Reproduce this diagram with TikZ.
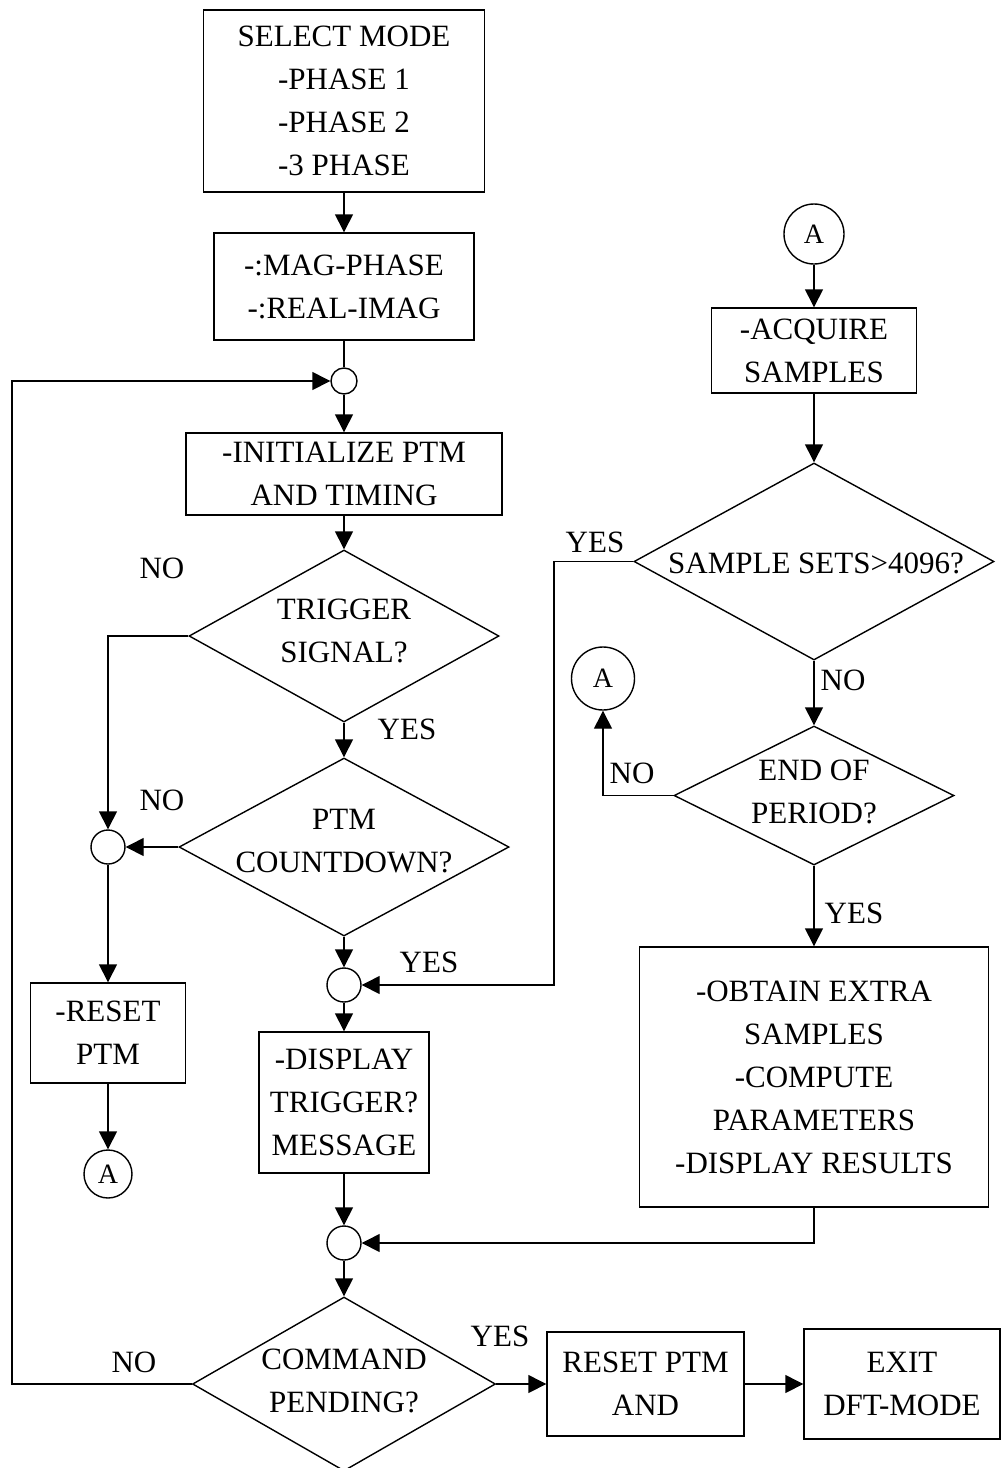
\documentclass[tikz,border=0pt]{standalone}
\usepackage{fontspec}
\setmainfont{Liberation Serif}
\usetikzlibrary{arrows.meta,shapes.geometric}
\begin{document}
\begin{tikzpicture}[x=0.5pt,y=-0.5pt,
  every node/.style={font=\fontsize{15.5}{21.5}\selectfont},
  proc/.style={draw, line width=0.7pt, align=center, inner sep=0pt},
  dec/.style={draw, diamond, line width=0.7pt, inner sep=0pt},
  jn/.style={draw, circle, line width=0.7pt, inner sep=0pt, minimum size=17pt},
  conn/.style={draw, circle, line width=0.7pt, inner sep=0pt,
    font=\fontsize{14}{16}\selectfont},
  lbl/.style={inner sep=0pt, align=center},
  flow/.style={line width=0.7pt, -{Triangle[length=9pt,width=9pt]}},
  plain/.style={line width=0.7pt}]
\useasboundingbox (0,0) rectangle (1002,1468);

% ---- main column ----
\node[proc, minimum width=140.5pt, minimum height=91pt] (mode) at (344,101)
  {SELECT MODE\\-PHASE 1\\-PHASE 2\\-3 PHASE};
\node[proc, minimum width=130pt, minimum height=53.5pt] (fmt) at (344,286.5)
  {-:MAG-PHASE\\-:REAL-IMAG};
\node[jn, minimum size=13pt] (j1) at (344,381) {};
\node[proc, minimum width=158pt, minimum height=41pt] (init) at (344,474)
  {-INITIALIZE PTM\\AND TIMING};
\node[dec, minimum width=155pt, minimum height=86pt] (trig) at (344,636) {};
\node[lbl] (trigt) at (344,631) {TRIGGER\\SIGNAL?};
\node[dec, minimum width=165pt, minimum height=89pt] (cnt) at (344,847) {};
\node[lbl] (cntt) at (344,841) {PTM\\COUNTDOWN?};
\node[jn] (j2) at (108,847) {};
\node[proc, minimum width=77.5pt, minimum height=50pt] (rst) at (108,1033)
  {-RESET\\PTM};
\node[conn, minimum size=24pt] (a1) at (108,1174) {A};
\node[jn] (j3) at (344,985) {};
\node[proc, minimum width=85pt, minimum height=70.5pt] (disp) at (344,1102.5)
  {-DISPLAY\\TRIGGER?\\MESSAGE};
\node[jn] (j4) at (344,1243) {};
\node[dec, minimum width=151.5pt, minimum height=87pt] (cmd) at (344,1384) {};
\node[lbl] (cmdt) at (344,1381) {COMMAND\\PENDING?};
\node[proc, minimum width=98.5pt, minimum height=52pt] (rp) at (645.5,1384)
  {RESET PTM\\AND};
\node[proc, minimum width=98pt, minimum height=55pt] (ex) at (902,1384)
  {EXIT\\DFT-MODE};

% ---- right column ----
\node[conn, minimum size=30pt] (a2) at (814,234) {A};
\node[proc, minimum width=102.5pt, minimum height=42.5pt] (acq) at (814,350.5)
  {-ACQUIRE\\SAMPLES};
\node[dec, minimum width=180pt, minimum height=98.5pt] (sets) at (814,561.5) {};
\node[lbl] (setst) at (816,563) {SAMPLE SETS>4096?};
\node[conn, minimum size=31.5pt] (a3) at (603,678.5) {A};
\node[dec, minimum width=140pt, minimum height=69.5pt] (per) at (814,795.5) {};
\node[lbl] (pert) at (814,792) {END OF\\PERIOD?};
\node[proc, minimum width=174.5pt, minimum height=130pt] (res) at (814,1077)
  {-OBTAIN EXTRA\\SAMPLES\\-COMPUTE\\PARAMETERS\\-DISPLAY RESULTS};

% ---- branch labels ----
\node[lbl] (n1) at (162,568) {NO};
\node[lbl] (y1) at (407,729) {YES};
\node[lbl] (n2) at (162,800) {NO};
\node[lbl] (y2) at (429,962) {YES};
\node[lbl] (y3) at (595,542) {YES};
\node[lbl] (n3) at (843,680) {NO};
\node[lbl] (n4) at (632,773) {NO};
\node[lbl] (y4) at (854,913) {YES};
\node[lbl] (n5) at (134,1362) {NO};
\node[lbl] (y5) at (500,1336) {YES};

% ---- bend points ----
\coordinate (loop) at (12,1384);
\coordinate (ybend) at (554,561.5);

% ---- connectors ----
\draw[flow] (mode) -- (fmt);
\draw[plain] (fmt) -- (j1);
\draw[flow] (j1) -- (init);
\draw[flow] (init) -- (trig);
\draw[flow] (trig) -- (cnt);
\draw[flow] (trig.west) -| (j2.north);
\draw[flow] (cnt.west) -- (j2.east);
\draw[flow] (j2) -- (rst);
\draw[flow] (rst) -- (a1);
\draw[flow] (cnt) -- (j3);
\draw[flow] (j3) -- (disp);
\draw[flow] (disp) -- (j4);
\draw[flow] (j4) -- (cmd);
\draw[flow] (cmd.east) -- (rp.west);
\draw[flow] (rp.east) -- (ex.west);
\draw[flow] (cmd.west) -- (loop) |- (j1.west);

\draw[flow] (a2) -- (acq);
\draw[flow] (acq) -- (sets);
\draw[flow] (sets.west) -- (ybend) |- (j3.east);
\draw[flow] (sets) -- (per);
\draw[flow] (per.west) -| (a3.south);
\draw[flow] (per) -- (res);
\draw[flow] (res.south) |- (j4.east);
\end{tikzpicture}
\end{document}
